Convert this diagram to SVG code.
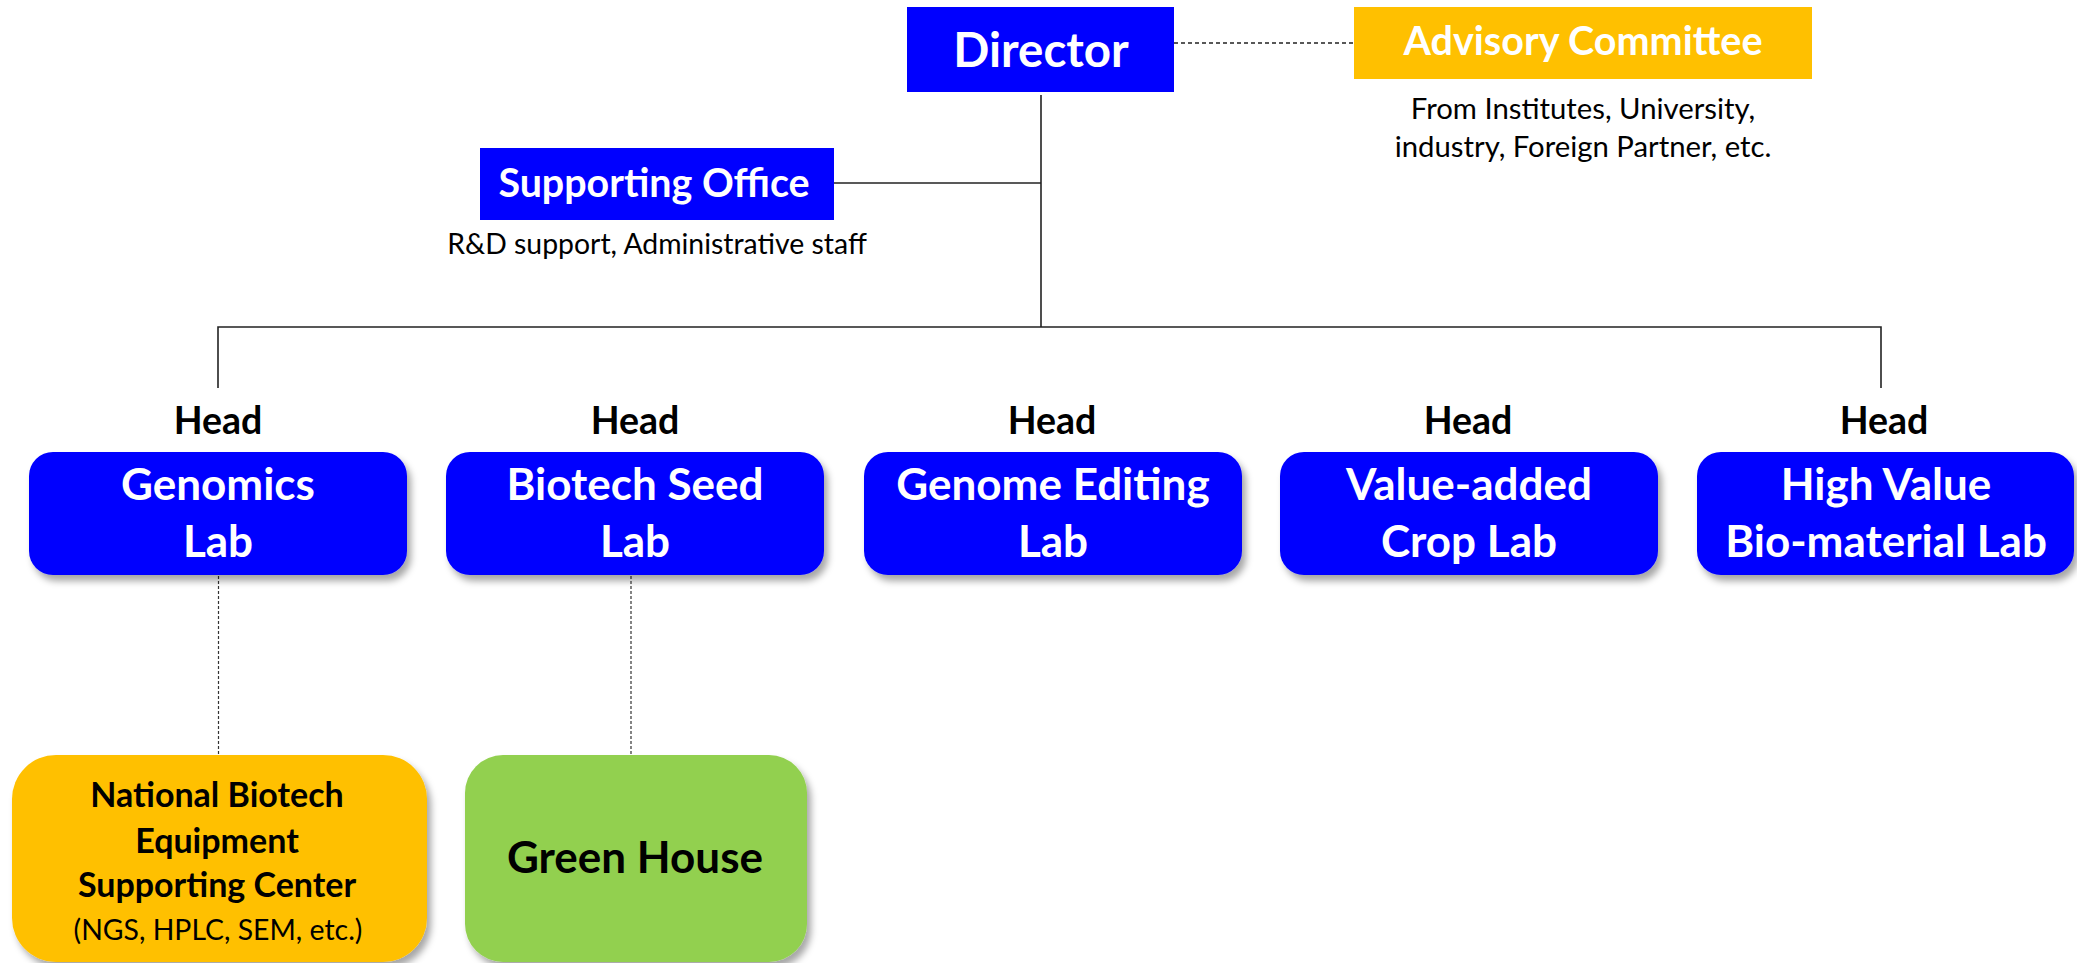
<svg xmlns="http://www.w3.org/2000/svg" width="2077" height="963" viewBox="0 0 2077 963">
<style>
.t{font-family:Lato,"Open Sans","Liberation Sans",sans-serif;text-anchor:middle}
.b{font-weight:bold}
.w{fill:#fff}
.k{fill:#000}
.lab{fill:#0000ff}
.hd{font-size:37.5px}
.lt{font-size:44px}
.ln{stroke:#222;stroke-width:1.6;fill:none}
.dash{stroke:#222;stroke-width:1.4;fill:none;stroke-dasharray:4 3}
.dot{stroke:#333;stroke-width:1.2;fill:none;stroke-dasharray:3 2}
</style>
<defs>
<filter id="sh" x="-10%" y="-10%" width="125%" height="135%">
<feDropShadow dx="4" dy="6" stdDeviation="3.5" flood-color="#000" flood-opacity="0.35"/>
</filter>
</defs>
<rect width="2077" height="963" fill="#fff"/>
<g id="connectors">
<line class="dash" x1="1174" y1="43" x2="1354" y2="43"/>
<line class="ln" x1="1041" y1="95" x2="1041" y2="327"/>
<line class="ln" x1="834" y1="183" x2="1041" y2="183"/>
<polyline class="ln" points="218,388 218,327 1881,327 1881,388"/>
<line class="dot" x1="218.5" y1="576" x2="218.5" y2="755"/>
<line class="dot" x1="631" y1="576" x2="631" y2="755"/>
</g>
<g id="director">
<rect x="907" y="7" width="267" height="85" fill="#0000ff"/>
<text class="t b w" x="1041" y="67" font-size="47.5">Director</text>
</g>
<g id="advisory">
<rect x="1354" y="7" width="458" height="72" fill="#ffc000"/>
<text class="t b w" x="1583" y="55" font-size="39.5">Advisory Committee</text>
<text class="t k" x="1583" y="119" font-size="29.3">From Institutes, University,</text>
<text class="t k" x="1583" y="157" font-size="29.3">industry, Foreign Partner, etc.</text>
</g>
<g id="supporting-office">
<rect x="480" y="148" width="354" height="72" fill="#0000ff"/>
<text class="t b w" x="654" y="197" font-size="39.4">Supporting Office</text>
<text class="t k" x="657" y="254" font-size="28.4">R&amp;D support, Administrative staff</text>
</g>
<g id="genomics">
<text class="t b k hd" x="218" y="434">Head</text>
<rect class="lab" x="29" y="452" width="378" height="123" rx="24" filter="url(#sh)"/>
<text class="t b w lt" x="218" y="500">Genomics</text>
<text class="t b w lt" x="218" y="557">Lab</text>
</g>
<g id="biotech-seed">
<text class="t b k hd" x="635" y="434">Head</text>
<rect class="lab" x="446" y="452" width="378" height="123" rx="24" filter="url(#sh)"/>
<text class="t b w lt" x="635" y="500">Biotech Seed</text>
<text class="t b w lt" x="635" y="557">Lab</text>
</g>
<g id="genome-editing">
<text class="t b k hd" x="1052" y="434">Head</text>
<rect class="lab" x="864" y="452" width="378" height="123" rx="24" filter="url(#sh)"/>
<text class="t b w lt" x="1053" y="500">Genome Editing</text>
<text class="t b w lt" x="1053" y="557">Lab</text>
</g>
<g id="value-added">
<text class="t b k hd" x="1468" y="434">Head</text>
<rect class="lab" x="1280" y="452" width="378" height="123" rx="24" filter="url(#sh)"/>
<text class="t b w lt" x="1469" y="500">Value-added</text>
<text class="t b w lt" x="1469" y="557">Crop Lab</text>
</g>
<g id="high-value">
<text class="t b k hd" x="1884" y="434">Head</text>
<rect class="lab" x="1697" y="452" width="377" height="123" rx="24" filter="url(#sh)"/>
<text class="t b w lt" x="1886" y="500">High Value</text>
<text class="t b w lt" x="1886" y="557">Bio-material Lab</text>
</g>
<g id="national-center">
<rect x="12" y="755" width="415" height="207" rx="44" fill="#ffc000" filter="url(#sh)"/>
<text class="t b k" x="217" y="807" font-size="34">National Biotech</text>
<text class="t b k" x="217" y="853" font-size="34">Equipment</text>
<text class="t b k" x="217" y="897" font-size="34">Supporting Center</text>
<text class="t k" x="218" y="940" font-size="28.4">(NGS, HPLC, SEM, etc.)</text>
</g>
<g id="green-house">
<rect x="465" y="755" width="342" height="207" rx="38" fill="#92d050" filter="url(#sh)"/>
<text class="t b k" x="635" y="873" font-size="44">Green House</text>
</g>
</svg>
